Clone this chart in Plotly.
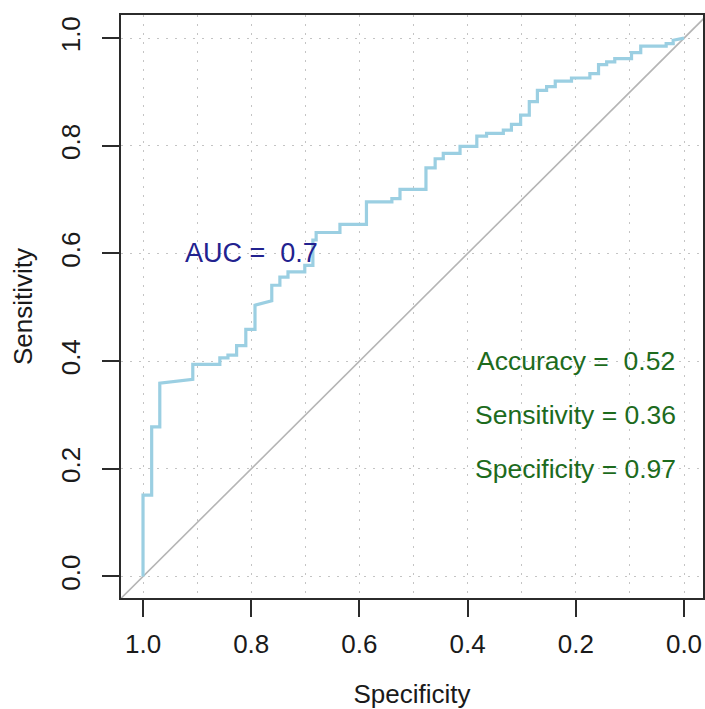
import plotly.graph_objects as go

# ROC curve coordinates (specificity, sensitivity)
specificity = [1.000, 1.000, 0.984, 0.984, 0.969, 0.969, 0.908, 0.908, 0.858, 0.858,
               0.843, 0.843, 0.827, 0.827, 0.810, 0.810, 0.793, 0.793, 0.762, 0.762,
               0.747, 0.747, 0.732, 0.732, 0.701, 0.701, 0.686, 0.686, 0.680, 0.680,
               0.636, 0.636, 0.587, 0.587, 0.540, 0.540, 0.525, 0.525, 0.477, 0.477,
               0.460, 0.460, 0.445, 0.445, 0.414, 0.414, 0.383, 0.383, 0.365, 0.365,
               0.334, 0.334, 0.319, 0.319, 0.302, 0.302, 0.286, 0.286, 0.271, 0.271,
               0.254, 0.254, 0.238, 0.238, 0.208, 0.208, 0.174, 0.174, 0.158, 0.158,
               0.143, 0.143, 0.128, 0.128, 0.097, 0.097, 0.080, 0.080, 0.033, 0.033,
               0.020, 0.020, 0.000]
sensitivity = [0.000, 0.151, 0.151, 0.278, 0.278, 0.359, 0.366, 0.394, 0.394, 0.406,
               0.406, 0.411, 0.411, 0.429, 0.429, 0.459, 0.459, 0.504, 0.512, 0.541,
               0.541, 0.556, 0.556, 0.566, 0.566, 0.578, 0.578, 0.625, 0.625, 0.639,
               0.639, 0.654, 0.654, 0.696, 0.696, 0.702, 0.702, 0.719, 0.719, 0.759,
               0.759, 0.776, 0.776, 0.786, 0.786, 0.799, 0.799, 0.818, 0.818, 0.823,
               0.823, 0.829, 0.829, 0.840, 0.840, 0.857, 0.857, 0.882, 0.882, 0.903,
               0.903, 0.910, 0.910, 0.920, 0.920, 0.926, 0.926, 0.934, 0.934, 0.951,
               0.951, 0.956, 0.956, 0.962, 0.962, 0.973, 0.973, 0.985, 0.985, 0.990,
               0.990, 0.996, 1.000]

diag_x = [1.2, -0.2]
diag_y = [-0.2, 1.2]

auc_text = "AUC =\u00a0 0.7"
auc_pos = (0.8, 0.6)
metric_texts = ["Accuracy =\u00a0 0.52", "Sensitivity = 0.36", "Specificity = 0.97"]
metric_x = [0.2, 0.2, 0.2]
metric_y = [0.4, 0.3, 0.2]

tick_vals = [0.0, 0.2, 0.4, 0.6, 0.8, 1.0]
tick_text = ["0.0", "0.2", "0.4", "0.6", "0.8", "1.0"]

FONT = "Liberation Sans, Arial, Helvetica, sans-serif"
GRID = "#c4c4c4"
AXIS = "#2b2b2b"

fig = go.Figure()
fig.add_trace(go.Scatter(x=diag_x, y=diag_y, mode="lines",
                         line=dict(color="#b5b5b5", width=1.6),
                         hoverinfo="skip", showlegend=False))
fig.add_trace(go.Scatter(x=specificity, y=sensitivity, mode="lines",
                         line=dict(color="#9bcfe2", width=3.2),
                         showlegend=False))

fig.add_annotation(x=auc_pos[0], y=auc_pos[1], text=auc_text, showarrow=False,
                   font=dict(family=FONT, size=27, color="#22228f"),
                   xanchor="center", yanchor="middle")
for t, xx, yy in zip(metric_texts, metric_x, metric_y):
    fig.add_annotation(x=xx, y=yy, text=t, showarrow=False,
                       font=dict(family=FONT, size=26.5, color="#1d6b1d"),
                       xanchor="center", yanchor="middle")

axis_common = dict(
    tickvals=tick_vals, ticktext=tick_text,
    ticks="outside", ticklen=17, tickwidth=1.5, tickcolor=AXIS,
    showline=True, linecolor=AXIS, linewidth=1.5, mirror=True,
    showgrid=True, gridcolor=GRID, gridwidth=1, griddash="2px,7px",
    zeroline=False, automargin=False,
    tickfont=dict(family=FONT, size=26, color="#1a1a1a"),
)

fig.update_xaxes(range=[1.0407, -0.0351],
                 title=dict(text="Specificity", font=dict(family=FONT, size=26, color="#1a1a1a"), standoff=28),
                 minor=dict(dtick=0.1, tick0=0, showgrid=True, gridcolor=GRID,
                            griddash="2px,7px", gridwidth=1, ticks=""),
                 ticklabelstandoff=5,
                 **axis_common)
fig.update_yaxes(range=[-0.040, 1.043], tickangle=-90,
                 title=dict(text="Sensitivity", font=dict(family=FONT, size=26, color="#1a1a1a"), standoff=16),
                 ticklabelstandoff=12,
                 **axis_common)

fig.update_layout(
    width=705, height=709,
    margin=dict(l=121, r=2, t=15, b=111, autoexpand=False),
    plot_bgcolor="white", paper_bgcolor="white",
    font=dict(family=FONT),
)

# remove the default page margin so the figure fills the window exactly
fig.write_html("out.html",
               config={"displayModeBar": False},
               post_script="document.body.style.margin='0';document.body.style.overflow='hidden';")
